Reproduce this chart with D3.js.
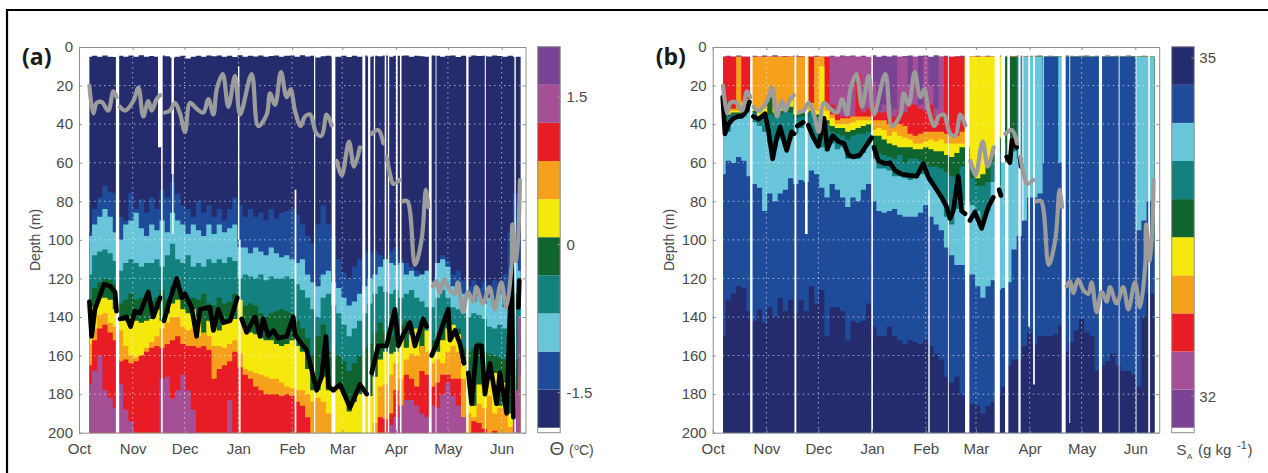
<!DOCTYPE html>
<html>
<head>
<meta charset="utf-8">
<script src="https://cdn.jsdelivr.net/npm/d3@7"></script>
<style>
html, body { margin: 0; padding: 0; background: #fff; }
svg { display: block; }
text { font-family: "Liberation Sans", Arial, sans-serif; fill: #4a4a4a; }
.soft { filter: blur(0.45px); }
</style>
</head>
<body>
<svg id="chart" width="1268" height="473"></svg>
<script>
// time axis, days since 1 Oct
var monthDays = [0, 31, 61, 92, 123, 152, 183, 213, 244];
var monthLabels = ["Oct", "Nov", "Dec", "Jan", "Feb", "Mar", "Apr", "May", "Jun"];
var depthTicks = [0, 20, 40, 60, 80, 100, 120, 140, 160, 180, 200];
var days = d3.range(6, 256, 3);

var navy = "#242c6e", blue = "#1f4b9b", light = "#69c5d9", teal = "#13827f", green = "#10652f",
    yellow = "#f4e80d", orange = "#f5a11b", red = "#e81c24", magenta = "#a44f96", purple = "#794293";

// top of the record, both panels
var surface = [
  5,4.6,5,4.4,5,5.2,4.5,5,4.4,5.1,4.3,5,
  4.7,5,4.4,4.8,5.5,5,4.6,6,5,4.5,5,4.4,
  4.8,4.4,5,4.6,5.2,4.3,5,4.5,4.9,4.4,5,4.7,
  4.4,5,4.6,4.4,5,4.3,4.9,4.5,5.4,4.8,4.5,5,
  5,4.5,5.2,4.6,5,4.4,5,4.6,4.8,4.4,5,4.5,
  4.6,4.4,5,4.5,4.8,5,4.4,4.6,5,4.5,4.4,5.2,
  4.6,5,4.4,4.7,4.5,4.9,4.4,4.7,5,4.6,5,5
];

// panel (a) conservative temperature, depth of each colour change
var thetaNavyBlue = [
  96,84,78,72,75,76,88,90,76,84,79,86,
  78,84,74,78,70,76,82,84,88,80,86,82,
  88,84,90,84,78,82,88,84,88,86,90,84,
  89,86,85,84,87,92,98,102,92,82,92,98,
  110,117,120,114,110,106,107,106,108,110,106,104,
  110,112,114,116,118,116,121,114,108,111,118,116,
  121,124,121,125,122,126,121,124,118,96,76,92
];
var thetaBlueLight = [
  98,92,88,84,88,96,100,92,90,86,94,98,
  92,95,90,96,86,90,92,97,92,95,98,92,
  97,92,96,94,92,104,104,107,104,106,108,104,
  107,109,108,110,112,110,118,122,124,118,116,122,
  125,130,134,132,128,124,120,118,114,110,112,113,
  112,118,116,119,118,116,122,112,110,114,124,122,
  128,130,132,129,133,130,132,128,135,128,112,116
];
var thetaLightTeal = [
  118,108,106,105,107,111,116,112,110,112,114,112,
  112,110,114,108,102,110,112,108,114,112,114,110,
  112,110,112,109,111,120,118,119,120,118,121,119,
  120,120,119,120,123,126,130,136,140,130,128,134,
  138,144,150,146,142,138,133,128,124,127,128,126,
  130,128,126,130,132,135,135,130,126,130,135,136,
  138,140,138,139,141,145,146,144,146,142,128,132
];
var thetaTealGreen = [
  132,125,122,120,121,123,133,131,128,131,130,130,
  132,130,126,131,124,122,128,132,130,131,128,133,
  134,130,133,132,128,135,134,133,134,138,140,138,
  137,136,137,138,142,146,151,160,150,144,158,161,
  160,163,168,164,160,156,154,148,143,148,150,143,
  144,142,146,148,142,147,152,148,146,137,147,146,
  156,158,156,153,158,159,160,161,162,164,162,150
];
var thetaGreenYellow = [
  150,135,130,130,131,136,142,142,140,142,143,142,
  141,136,142,138,133,131,136,138,136,140,152,142,
  140,147,143,142,141,131,145,148,149,151,152,152,
  154,155,154,152,155,158,167,178,178,171,178,179,
  177,180,189,184,180,178,181,171,162,158,159,158,
  150,156,149,146,158,147,160,158,152,146,144,149,
  164,172,186,175,176,172,169,186,174,190,192,170
];
var thetaYellowOrange = [
  154,146,139,138,143,145,147,155,160,161,160,156,
  153,150,146,143,140,140,145,147,146,150,148,150,
  155,155,156,154,152,159,167,168,169,170,171,172,
  172,174,176,177,178,178,180,184,182,184,190,200,
  200,200,200,200,200,200,200,195,176,175,170,164,
  172,162,159,160,155,158,164,162,164,158,155,158,
  172,190,192,185,187,181,190,187,188,197,197,190
];
var thetaOrangeRed = [
  165,152,146,144,148,152,163,162,164,163,160,158,
  156,155,156,154,152,150,154,155,155,156,155,157,
  172,167,165,163,158,166,170,172,176,178,180,180,
  180,181,180,181,184,186,192,200,200,200,200,200,
  200,200,200,200,200,200,200,200,192,193,190,178,
  186,170,172,176,168,170,176,174,170,170,172,172,
  192,200,194,195,198,200,199,200,200,200,200,200
];
var thetaRedMagenta = [
  175,168,160,178,182,187,175,188,194,200,200,200,
  200,200,172,171,182,178,170,178,188,200,200,200,
  200,200,200,183,200,200,200,200,200,200,200,200,
  200,200,200,200,200,200,200,200,200,200,200,200,
  200,200,200,200,200,200,200,200,200,200,196,192,
  186,183,183,186,190,192,186,187,180,174,181,186,
  192,200,200,200,200,200,200,200,200,200,178,140
];

// panel (b) absolute salinity, depth of each colour change
var saltPurpleMagenta = [
  5,5,5,5,5,5,5,5,5,5,5,5,
  5,5,5,5,5,5,5,5,5,5,5,5,
  5,5,5,5,5,18,33,30,30,32,5,5,
  20,5,30,5,20,32,5,5,5,5,5,5,
  5,5,5,5,5,5,5,5,5,5,5,5,
  5,5,5,5,5,5,5,5,5,5,5,5,
  5,5,5,5,5,5,5,5,5,5,5,5
];
var saltMagentaRed = [
  5,5,5,5,5,5,5,5,5,5,5,5,
  5,5,5,5,5,5,5,5,5,30,34,36,
  36,36,14,34,32,30,34,34,36,36,34,34,
  30,30,32,33,30,36,34,5,5,5,5,5,
  5,5,5,5,5,5,5,5,5,5,5,5,
  5,5,5,5,5,5,5,5,5,5,5,5,
  5,5,5,5,5,5,5,5,5,5,5,5
];
var saltRedOrange = [
  30,32,32,5,28,27,5,5,5,5,5,5,
  5,5,5,5,5,29,5,5,30,35,38,37,
  37,36,36,36,36,38,38,38,40,40,40,41,
  45,46,45,44,44,44,44,45,46,46,44,5,
  5,5,5,5,5,5,5,5,5,5,5,5,
  5,5,5,5,5,5,5,5,5,5,5,5,
  5,5,5,5,5,5,5,5,5,5,5,5
];
var saltOrangeYellow = [
  31,33,33,33,29,28,31,34,32,31,32,30,
  30,28,33,33,33,31,33,10,33,37,40,40,
  40,39,38,38,38,43,42,43,46,44,46,47,
  48,50,50,49,48,49,48,50,50,50,50,5,
  5,5,5,5,5,5,5,5,5,5,5,5,
  5,5,5,5,5,5,5,5,5,5,5,5,
  5,5,5,5,5,5,5,5,5,5,5,5
];
var saltYellowGreen = [
  33,35,34,34,31,29,33,36,35,26,34,33,
  31,31,35,34,34,33,35,36,38,41,42,42,
  44,43,42,41,40,46,46,48,50,51,52,52,
  52,53,53,52,53,54,54,56,57,55,52,52,
  63,68,66,62,55,47,5,5,5,5,5,5,
  5,5,5,5,5,5,5,5,5,5,5,5,
  5,5,5,5,5,5,5,5,5,5,5,5
];
var saltGreenTeal = [
  33,36,35,35,32,30,34,37,37,35,36,35,
  33,34,37,36,36,34,37,39,41,44,45,46,
  48,46,45,45,44,54,55,56,57,58,56,60,
  58,58,59,60,62,62,63,65,67,68,62,62,
  68,72,72,70,60,55,50,58,50,5,5,5,
  5,5,5,5,5,5,5,5,5,5,5,5,
  5,5,5,5,5,5,5,5,5,5,5,5
];
var saltTealLight = [
  42,44,38,37,36,34,39,41,44,50,52,48,
  52,48,45,42,40,44,50,52,54,50,53,52,
  58,58,58,55,50,58,63,63,64,67,67,68,
  69,68,66,66,70,74,78,88,92,84,82,80,
  82,85,90,85,70,72,60,58,54,58,5,5,
  5,5,5,5,5,5,5,5,5,5,5,5,
  5,5,5,5,5,5,5,5,5,5,5,5
];
var saltLightBlue = [
  66,59,60,57,59,67,71,73,85,76,80,76,
  74,68,71,69,70,64,66,73,78,71,74,78,
  83,78,80,74,71,80,85,86,85,84,87,88,
  88,88,86,82,88,92,95,104,108,113,113,118,
  118,124,130,124,121,126,125,122,105,98,90,78,
  78,76,5,5,5,60,5,5,5,5,5,5,
  5,5,5,5,5,5,5,5,95,90,80,85
];
var saltBlueNavy = [
  150,131,128,124,125,137,142,136,143,135,140,130,
  137,131,138,131,137,124,133,126,150,135,135,137,
  152,142,143,142,133,145,150,150,145,150,152,154,
  152,153,154,152,155,159,162,171,174,171,180,184,
  185,186,190,186,184,181,176,165,162,162,155,148,
  154,150,150,150,149,144,158,153,147,141,148,150,
  168,165,163,159,165,168,168,170,176,140,128,128
];

// grey line, same on both panels (null = break in the record)
var greyDays = [6,8.3,10.2,13.1,16.9,19.8,21.7,22.7,23.7,26.6,31.4,34.3,37.1,40,42,44.8,46.8,48,
  49.7,52.5,55.4,58.3,61.2,64.1,67.9,71.8,74.7,77.6,79.5,83,86.2,90.1,93,99.7,103.5,108.4,110.3,113.2,116.6,
  119.9,122.2,124.7,128,130.5,133.4,137.2,140.1,143,145.9,147,148.8,151.7,155.9,158.8,162.2,165,169,172.8,175.7,176.6,
  177.6,179.6,181.5,185,185.6,186.9,189.6,194,197.8,200.3,201.7,203,204.4,206.3,208.2,211,214,216.9,218.8,221.7,
  224.6,227.5,229.4,233.2,237,240,243.8,246.7,249.8,250.2,252.7,254.6];
var greyDepths = [20,34.5,29,28.5,33,23,26,null,31,33,28,21,36,28,33,27,25,null,
  34,33,29,34.5,44,29,32,34,27,35,22,14,31,15,35,14,41,35,24,30,13,
  26,22,33,41,36,35,45,46,35,40.6,null,59,66.6,49,62,52,null,45,43,50,null,
  57,66,71,69,null,80,80,113,100,74,83,null,124,121.5,127.5,120.5,126,128,122,137.5,
  127,132,124.5,133,124.5,136,122,135,112,92,111,69];

// black lines, one per panel
var blackDaysA = [6,7.3,9.2,12.1,14.4,17.9,20.8,21.7,22.7,23.7,27.5,29.8,32.3,35.2,40,42.9,46.8,48,
  49.1,52.5,56.4,59.3,61.2,65,67.9,69.9,75.6,77.6,80.4,83.3,87.2,91.4,92.6,93.9,96.8,101.6,104.5,106.4,109.3,112.2,115.1,
  119.9,123.7,124.7,128.6,131.4,133.4,135.3,137.2,140.1,142.6,144,146.8,150.7,156.5,162.2,166.1,167,169,172.8,177.6,182.4,184.4,
  187.3,191.1,194,198.8,200.7,202,203.6,206.5,210.4,213.2,214.2,217.1,220,222.3,223.5,224.8,226.7,229.6,232.5,234.4,237.3,
  241.1,243,246.9,249.8,250.8,252,253.7,254.2];
var blackDepthsA = [132,150,136,129,123,124,127,137,null,141,140,145,137,138,127,140,130,null,
  142,131,120,130,128,135,150,136,135,147,136,143,142,130,null,141,148,140,150,141,150,147,151,
  150,140,149,154,157,164,171,178,171,150,176,178,175,187,175,180,null,169,155,155,136,155,
  149,143,155,141,145,null,160,154,143,136,152,147,154,164,null,169,185,155,155,180,164,
  185,169,190,112,192,null,135,121];
var blackDaysB = [5.8,7.1,9,11.9,14.8,16.7,19.6,21.2,22.2,23.5,26.4,30.2,32.1,34.6,37,38.9,42.7,45.6,47,48,
  48.9,52.3,53.5,55.2,58.1,61,64.3,66.2,69.3,72.6,75.8,78.3,81.2,85,88,91.8,92.4,93.1,95.6,99.5,102.4,105.3,109.1,113.9,117.8,
  121.6,124.5,128.4,132.2,135.1,137,138.9,141.8,143.7,145.7,147,148.5,151.4,155.3,159.1,162,164,165.4,166.4,167.5,169.7,171.6,172.8,175.5,176.5,177.6,178];
var blackDepthsB = [26,45,40,37,36,36,33,28.5,null,36,37.5,34.6,43,58,47,41.5,53.6,44,45,null,
  41,39,null,40.6,47,51.5,37,53,46,49,50,56,57,56,52,47,null,52,59,60.5,60,64,66,66.6,67,
  60.5,67.5,72.7,78,83,89,85,67,85,86.5,null,90,85.6,94,83,78,null,74,77,null,57,60,48.4,52,null,58,62];

// white breaks in the record: start day, end day, top depth, bottom depth
var gapsA = [[21.3,23.2,0,200],[45.6,48.3,0,52],[47.4,48.3,52,200],[53.4,54.8,0,66],[53.8,54.6,66,97],
  [91.8,92.6,10,100],[92.2,93.3,100,200],[124.5,125.5,74,200],[135.7,136.4,0,200],[145.9,148,0,200],
  [163.6,165.3,0,200],[166.9,168.2,0,200],[170.2,171,0,200],[176.5,177.4,0,200],[178.3,179.1,0,200],
  [183,184,0,200],[185.3,186.2,0,200],[202,203.6,0,200],[205.9,206.4,0,200],[223.6,224.9,0,200],
  [234.3,234.9,0,200],[251.4,252.2,0,200]];
var gapsB = [[21.6,23,0,200],[47.2,48.3,0,200],[53.3,54.8,0,97],[91.6,92.5,0,200],[124.5,125.3,74,200],
  [135.8,136.3,0,200],[145.7,148.2,0,200],[162.8,165.8,0,200],[166.4,168.8,0,60],[168.8,170.7,60,200],
  [170.1,171.6,0,60],[176.5,177.8,0,200],[178.8,179.4,0,90],[182.2,183.2,0,145],[185,186,0,175],
  [190.8,191.2,0,60],[201.5,203.8,0,200],[205.9,206.4,0,195],[223,224.8,0,200],[234.4,234.9,0,200],
  [244.2,244.7,0,200],[251.5,252.5,0,200]];

// colour bars
var thetaLevels = [-1.855,-1.469,-1.083,-0.697,-0.31,0.076,0.462,0.848,1.235,1.621,2.007];
var thetaColors = [navy, blue, light, teal, green, yellow, orange, red, magenta, purple];
var thetaTicks = [-1.5, 0, 1.5];
var saltLevels = [31.72,32.058,32.396,32.734,33.072,33.41,33.748,34.086,34.424,34.762,35.1];
var saltColors = [purple, magenta, red, orange, yellow, green, teal, light, blue, navy];
var saltTicks = [32, 35];

var svg = d3.select("#chart");
var axisGrey = "#8e8e8e";

// outer frame, only top and left show in the crop
svg.append("path").attr("d", "M1268,10H7V473").attr("fill", "none").attr("stroke", "#000").attr("stroke-width", 2.2);

function drawPanel(left, name, layers, gaps, blackDays, blackDepths) {
    var x = d3.scaleLinear().domain([0, 257.8]).range([left, left + 446.5]);
    var y = d3.scaleLinear().domain([0, 200]).range([47, 432.7]);
    var g = svg.append("g").attr("class", "soft");

    var area = d3.area()
        .curve(d3.curveStep)
        .x(function (d, i) { return x(days[i]); })
        .y0(function (d) { return y(d); })
        .y1(y(200));

    g.selectAll("path.layer")
        .data(layers)
        .enter().append("path")
        .attr("class", "layer")
        .attr("fill", function (d) { return d[0]; })
        .attr("d", function (d) { return area(d[1]); });

    g.selectAll("rect.gap")
        .data(gaps)
        .enter().append("rect")
        .attr("class", "gap")
        .attr("fill", "#fff")
        .attr("x", function (d) { return x(d[0]); })
        .attr("width", function (d) { return x(d[1]) - x(d[0]); })
        .attr("y", function (d) { return y(d[2]); })
        .attr("height", function (d) { return y(d[3]) - y(d[2]); });

    // dotted grid sits on top of the colours
    g.selectAll("line.hgrid")
        .data(depthTicks.slice(1, -1))
        .enter().append("line")
        .attr("class", "hgrid")
        .attr("x1", x(0)).attr("x2", x(257.8))
        .attr("y1", function (d) { return y(d); })
        .attr("y2", function (d) { return y(d); });
    g.selectAll("line.vgrid")
        .data(monthDays.slice(1))
        .enter().append("line")
        .attr("class", "vgrid")
        .attr("x1", function (d) { return x(d); })
        .attr("x2", function (d) { return x(d); })
        .attr("y1", y(0)).attr("y2", y(200));
    g.selectAll("line.hgrid, line.vgrid")
        .attr("stroke", "#fff").attr("stroke-opacity", 0.6).attr("stroke-width", 1)
        .attr("stroke-dasharray", "1.5,3.5");

    function lineOf(xs, curve, width, colour) {
        var line = d3.line()
            .defined(function (d) { return d !== null; })
            .curve(curve)
            .x(function (d, i) { return x(xs[i]); })
            .y(function (d) { return y(d); });
        return function (values) {
            g.append("path")
                .attr("d", line(values))
                .attr("fill", "none")
                .attr("stroke", colour)
                .attr("stroke-width", width)
                .attr("stroke-linejoin", "round")
                .attr("stroke-linecap", "round");
        };
    }
    lineOf(blackDays, d3.curveLinear, 4.7, "#000")(blackDepths);
    lineOf(greyDays, d3.curveCatmullRom, 4.2, "#9c9c9c")(greyDepths);

    // box and ticks
    var axes = [
        d3.axisBottom(x).tickValues(monthDays).tickFormat(function (d, i) { return monthLabels[i]; }).tickSizeInner(-3).tickSizeOuter(0).tickPadding(10.6),
        d3.axisLeft(y).tickValues(depthTicks).tickSizeInner(-3).tickSizeOuter(0).tickPadding(6),
        d3.axisTop(x).tickValues(monthDays).tickFormat("").tickSizeInner(-3).tickSizeOuter(0),
        d3.axisRight(y).tickValues(depthTicks).tickFormat("").tickSizeInner(-3).tickSizeOuter(0)
    ];
    var spots = [[0, y(200)], [x(0), 0], [0, y(0)], [x(257.8), 0]];
    axes.forEach(function (a, i) {
        var ag = svg.append("g").attr("transform", "translate(" + spots[i][0] + "," + spots[i][1] + ")").call(a);
        ag.selectAll("path, line").attr("stroke", axisGrey);
        ag.selectAll("text").attr("font-size", 15).style("font-family", '"Liberation Sans", Arial, sans-serif').attr("fill", "#4a4a4a");
    });

    svg.append("text")
        .attr("transform", "translate(" + (left - 39) + ",240) rotate(-90)")
        .attr("text-anchor", "middle")
        .attr("font-size", 14)
        .text("Depth (m)");
    svg.append("text")
        .attr("x", left - 57).attr("y", 65)
        .style("font-family", '"Open Sans", sans-serif')
        .style("fill", "#1a1a1a")
        .attr("font-weight", 700)
        .attr("font-size", 23)
        .text(name);
}

function drawBar(left, levels, colors, ticks, labelX) {
    var c = d3.scaleLinear()
        .domain([levels[0], levels[levels.length - 1]])
        .range([427.7, 46.7]);
    var g = svg.append("g");
    g.selectAll("rect")
        .data(colors)
        .enter().append("rect")
        .attr("x", left).attr("width", 22.5)
        .attr("y", function (d, i) { return c(levels[i + 1]); })
        .attr("height", function (d, i) { return c(levels[i]) - c(levels[i + 1]); })
        .attr("fill", function (d) { return d; });
    g.append("rect")
        .attr("x", left).attr("y", 46.7).attr("width", 22.5).attr("height", 386)
        .attr("fill", "none").attr("stroke", axisGrey);
    g.selectAll("text")
        .data(ticks)
        .enter().append("text")
        .attr("x", labelX)
        .attr("y", function (d) { return c(d); })
        .attr("dy", "0.36em")
        .attr("font-size", 15)
        .text(function (d) { return d; });
    g.selectAll("line")
        .data(ticks)
        .enter().append("line")
        .attr("x1", left + 19.5).attr("x2", left + 22.5)
        .attr("y1", function (d) { return c(d); })
        .attr("y2", function (d) { return c(d); })
        .attr("stroke", axisGrey);
}

drawPanel(79, "(a)",
    [[navy, surface], [blue, thetaNavyBlue], [light, thetaBlueLight], [teal, thetaLightTeal], [green, thetaTealGreen],
     [yellow, thetaGreenYellow], [orange, thetaYellowOrange], [red, thetaOrangeRed], [magenta, thetaRedMagenta]],
    gapsA, blackDaysA, blackDepthsA);

drawPanel(712.7, "(b)",
    [[purple, surface], [magenta, saltPurpleMagenta], [red, saltMagentaRed], [orange, saltRedOrange], [yellow, saltOrangeYellow],
     [green, saltYellowGreen], [teal, saltGreenTeal], [light, saltTealLight], [blue, saltLightBlue], [navy, saltBlueNavy]],
    gapsB, blackDaysB, blackDepthsB);

drawBar(537.7, thetaLevels, thetaColors, thetaTicks, 566.5);
drawBar(1171.7, saltLevels, saltColors, saltTicks, 1199.3);

// colour bar titles
function label(x, y, size, s, weight) {
    svg.append("text").attr("x", x).attr("y", y).attr("font-size", size).attr("font-weight", weight || 400).text(s);
}
label(549.5, 455, 19, "\u0398", 400);
label(569, 455, 14, "(");
label(574, 450, 9, "o");
label(579, 455, 14, "C)");
label(1176.5, 455, 15, "S");
label(1187, 459, 8, "A");
label(1198, 455, 15, "(g kg");
label(1237, 449, 11, "-1");
label(1247.5, 455, 15, ")");
</script>
</body>
</html>
